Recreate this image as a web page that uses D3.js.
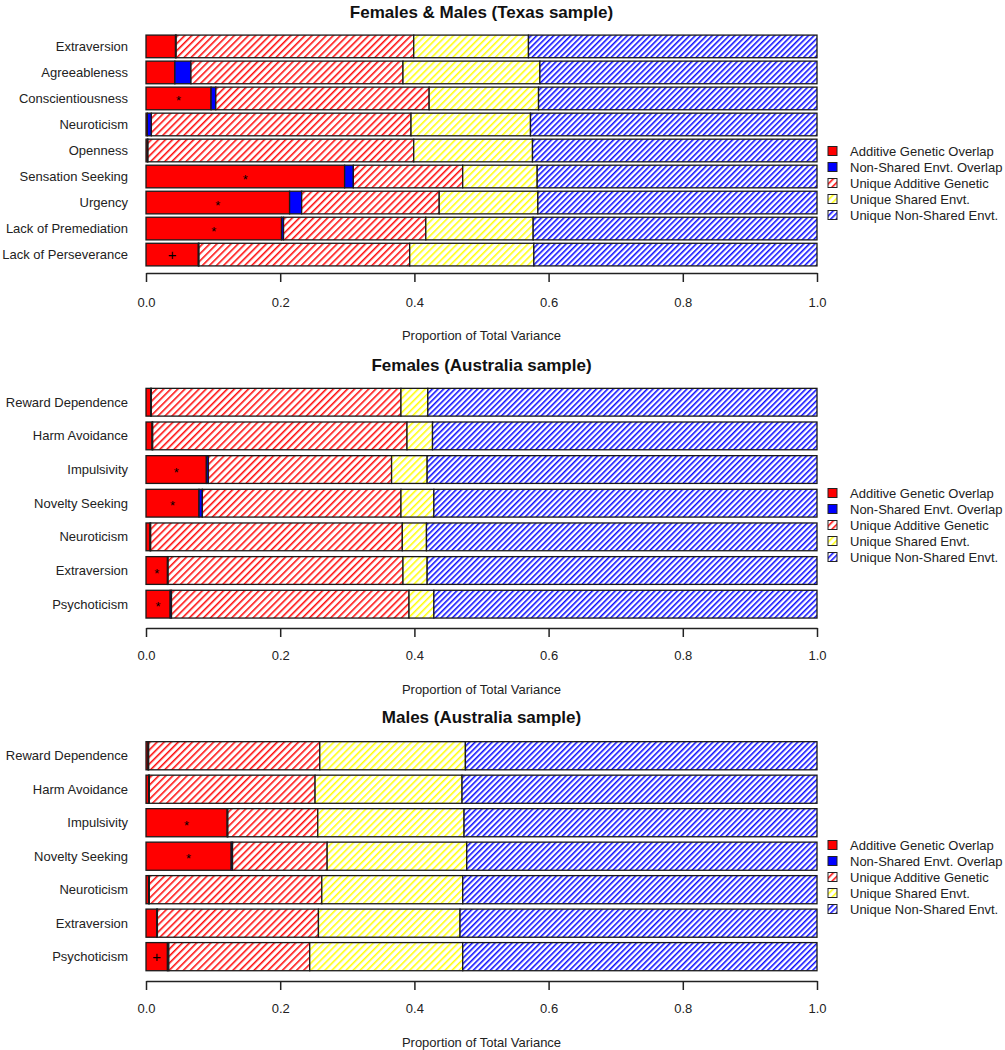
<!DOCTYPE html>
<html>
<head>
<meta charset="utf-8">
<script src="https://cdn.jsdelivr.net/npm/d3@7"></script>
<style>
  body { margin: 0; background: #fff; }
  svg { font-family: "Liberation Sans", Arial, Helvetica, sans-serif; }
</style>
</head>
<body>
<div id="chart"></div>
<script>
// legend / component names (stack order, left to right)
const componentNames = ["Additive Genetic Overlap", "Non-Shared Envt. Overlap", "Unique Additive Genetic", "Unique Shared Envt.", "Unique Non-Shared Envt."];
const xTicks = [0, 0.2, 0.4, 0.6, 0.8, 1.0];

// Females & Males (Texas sample)
const texasTraits = ["Extraversion", "Agreeableness", "Conscientiousness", "Neuroticism", "Openness", "Sensation Seeking", "Urgency", "Lack of Premediation", "Lack of Perseverance"];
const texasAddGenOverlap   = [0.044, 0.043, 0.097, 0.002, 0.002, 0.296, 0.214, 0.202, 0.078];
const texasNonSharedOverlap = [0.001, 0.024, 0.007, 0.006, 0.001, 0.013, 0.018, 0.003, 0.001];
const texasUniqueAddGen    = [0.354, 0.316, 0.318, 0.387, 0.396, 0.163, 0.205, 0.212, 0.314];
const texasUniqueShared    = [0.171, 0.204, 0.163, 0.178, 0.177, 0.111, 0.147, 0.160, 0.185];
const texasUniqueNonShared = [0.430, 0.413, 0.415, 0.427, 0.424, 0.417, 0.416, 0.423, 0.422];
const texasMarks = ["", "", "*", "", "", "*", "*", "*", "+"];

// Females (Australia sample)
const ozTraits = ["Reward Dependence", "Harm Avoidance", "Impulsivity", "Novelty Seeking", "Neuroticism", "Extraversion", "Psychoticism"];
const femAddGenOverlap   = [0.007, 0.009, 0.090, 0.079, 0.006, 0.032, 0.036];
const femNonSharedOverlap = [0.001, 0.001, 0.003, 0.005, 0.001, 0.001, 0.002];
const femUniqueAddGen    = [0.372, 0.379, 0.273, 0.296, 0.375, 0.350, 0.354];
const femUniqueShared    = [0.040, 0.038, 0.053, 0.049, 0.036, 0.036, 0.037];
const femUniqueNonShared = [0.580, 0.573, 0.581, 0.571, 0.582, 0.581, 0.571];
const femMarks = ["", "", "*", "*", "", "*", "*"];

// Males (Australia sample)
const maleAddGenOverlap   = [0.003, 0.004, 0.121, 0.127, 0.004, 0.016, 0.032];
const maleNonSharedOverlap = [0.001, 0.001, 0.001, 0.002, 0.001, 0.001, 0.002];
const maleUniqueAddGen    = [0.255, 0.247, 0.134, 0.141, 0.257, 0.240, 0.210];
const maleUniqueShared    = [0.217, 0.219, 0.218, 0.208, 0.210, 0.211, 0.228];
const maleUniqueNonShared = [0.524, 0.529, 0.526, 0.522, 0.528, 0.532, 0.528];
const maleMarks = ["", "", "*", "*", "", "", "+"];

const width = 1005, height = 1050;
const plotLeft = 146, plotRight = 817;
const fills = ["#ff0000", "#0000ff", "url(#hatch-red)", "url(#hatch-yellow)", "url(#hatch-blue)"];

const svg = d3.select("#chart").append("svg")
    .attr("width", width)
    .attr("height", height);

// hatch patterns
const defs = svg.append("defs");
[["hatch-red", "#ff0000", 5], ["hatch-yellow", "#ffff00", 5], ["hatch-blue", "#0000ff", 4]].forEach(([id, col, gap]) => {
    const p = defs.append("pattern")
        .attr("id", id)
        .attr("patternUnits", "userSpaceOnUse")
        .attr("width", gap)
        .attr("height", gap)
        .attr("patternTransform", "rotate(45)");
    p.append("rect").attr("width", gap).attr("height", gap).attr("fill", "#fff");
    p.append("line")
        .attr("x1", 0.8).attr("y1", 0).attr("x2", 0.8).attr("y2", gap)
        .attr("stroke", col).attr("stroke-width", 1.5);
});

const x = d3.scaleLinear().domain([0, 1]).range([plotLeft, plotRight]);

const panels = [
    { title: "Females & Males (Texas sample)", traits: texasTraits,
      parts: [texasAddGenOverlap, texasNonSharedOverlap, texasUniqueAddGen, texasUniqueShared, texasUniqueNonShared],
      marks: texasMarks,
      titleY: 12, top: 33.4, bottom: 267.6, pad: 0.13, axisY: 273, tickLabelY: 302, labelY: 335, legendY: 151 },
    { title: "Females (Australia sample)", traits: ozTraits,
      parts: [femAddGenOverlap, femNonSharedOverlap, femUniqueAddGen, femUniqueShared, femUniqueNonShared],
      marks: femMarks,
      titleY: 365, top: 385.4, bottom: 621, pad: 0.175, axisY: 628, tickLabelY: 655, labelY: 689, legendY: 493 },
    { title: "Males (Australia sample)", traits: ozTraits,
      parts: [maleAddGenOverlap, maleNonSharedOverlap, maleUniqueAddGen, maleUniqueShared, maleUniqueNonShared],
      marks: maleMarks,
      titleY: 717, top: 739, bottom: 973.4, pad: 0.16, axisY: 981, tickLabelY: 1008, labelY: 1042, legendY: 845 }
];

panels.forEach(drawPanel);

function drawPanel(cfg) {
    const g = svg.append("g");
    const keys = d3.range(componentNames.length);

    // table for d3.stack built from the arrays
    const rows = cfg.traits.map((t, i) => {
        const r = { trait: t };
        keys.forEach(k => { r[k] = cfg.parts[k][i]; });
        return r;
    });
    const stacked = d3.stack().keys(keys)(rows);

    const y = d3.scaleBand()
        .domain(cfg.traits)
        .range([cfg.top, cfg.bottom])
        .paddingInner(cfg.pad)
        .paddingOuter(cfg.pad / 2);

    g.selectAll("g.layer")
        .data(stacked)
        .join("g")
        .attr("class", "layer")
        .attr("fill", (d, i) => fills[i])
        .selectAll("rect")
        .data(d => d)
        .join("rect")
        .attr("x", d => x(d[0]))
        .attr("y", d => y(d.data.trait))
        .attr("width", d => x(d[1]) - x(d[0]))
        .attr("height", y.bandwidth())
        .attr("stroke", "#1a1a1a")
        .attr("stroke-width", 1.3);

    // significance marks in the centre of the overlap segment
    g.selectAll("text.mark")
        .data(cfg.traits.map((t, i) => ({ trait: t, v: cfg.parts[0][i], m: cfg.marks[i] })).filter(d => d.m))
        .join("text")
        .attr("class", "mark")
        .attr("x", d => x(d.v / 2))
        .attr("y", d => y(d.trait) + y.bandwidth() / 2 + (d.m === "*" ? 7 : 5))
        .attr("text-anchor", "middle")
        .attr("font-size", d => d.m === "*" ? 13 : 15)
        .attr("fill", "#000")
        .text(d => d.m);

    // category labels
    g.selectAll("text.cat")
        .data(cfg.traits)
        .join("text")
        .attr("class", "cat")
        .attr("x", 128)
        .attr("y", d => y(d) + y.bandwidth() / 2 + 4.5)
        .attr("text-anchor", "end")
        .attr("font-size", 13)
        .attr("fill", "#222")
        .text(d => d);

    // x axis
    const axis = g.append("g")
        .attr("transform", `translate(0, ${cfg.axisY})`)
        .call(d3.axisBottom(x).tickValues(xTicks).tickFormat(d3.format(".1f")).tickSizeInner(9).tickSizeOuter(0).tickPadding(15));
    axis.select(".domain").attr("stroke", "#222").attr("stroke-width", 1.5);
    axis.selectAll(".tick line").attr("stroke", "#222").attr("stroke-width", 1.5);
    axis.selectAll(".tick text")
        .attr("y", cfg.tickLabelY - cfg.axisY + 4.5)
        .attr("dy", null)
        .attr("font-size", 13)
        .attr("font-family", "Liberation Sans, Arial, sans-serif")
        .attr("fill", "#222");

    g.append("text")
        .attr("x", (plotLeft + plotRight) / 2)
        .attr("y", cfg.labelY + 4.5)
        .attr("text-anchor", "middle")
        .attr("font-size", 13)
        .attr("fill", "#222")
        .text("Proportion of Total Variance");

    // title
    g.append("text")
        .attr("x", (plotLeft + plotRight) / 2)
        .attr("y", cfg.titleY + 6)
        .attr("text-anchor", "middle")
        .attr("font-size", 17)
        .attr("font-weight", "bold")
        .attr("fill", "#111")
        .text(cfg.title);

    // legend
    const leg = g.append("g").attr("transform", `translate(828, ${cfg.legendY})`);
    const item = leg.selectAll("g")
        .data(componentNames)
        .join("g")
        .attr("transform", (d, i) => `translate(0, ${i * 16})`);
    item.append("rect")
        .attr("x", 0).attr("y", -4.5)
        .attr("width", 9).attr("height", 9)
        .attr("fill", (d, i) => fills[i])
        .attr("stroke", "#222")
        .attr("stroke-width", 1);
    item.append("text")
        .attr("x", 22)
        .attr("y", 4.5)
        .attr("font-size", 13)
        .attr("fill", "#222")
        .text(d => d);
}
</script>
</body>
</html>
